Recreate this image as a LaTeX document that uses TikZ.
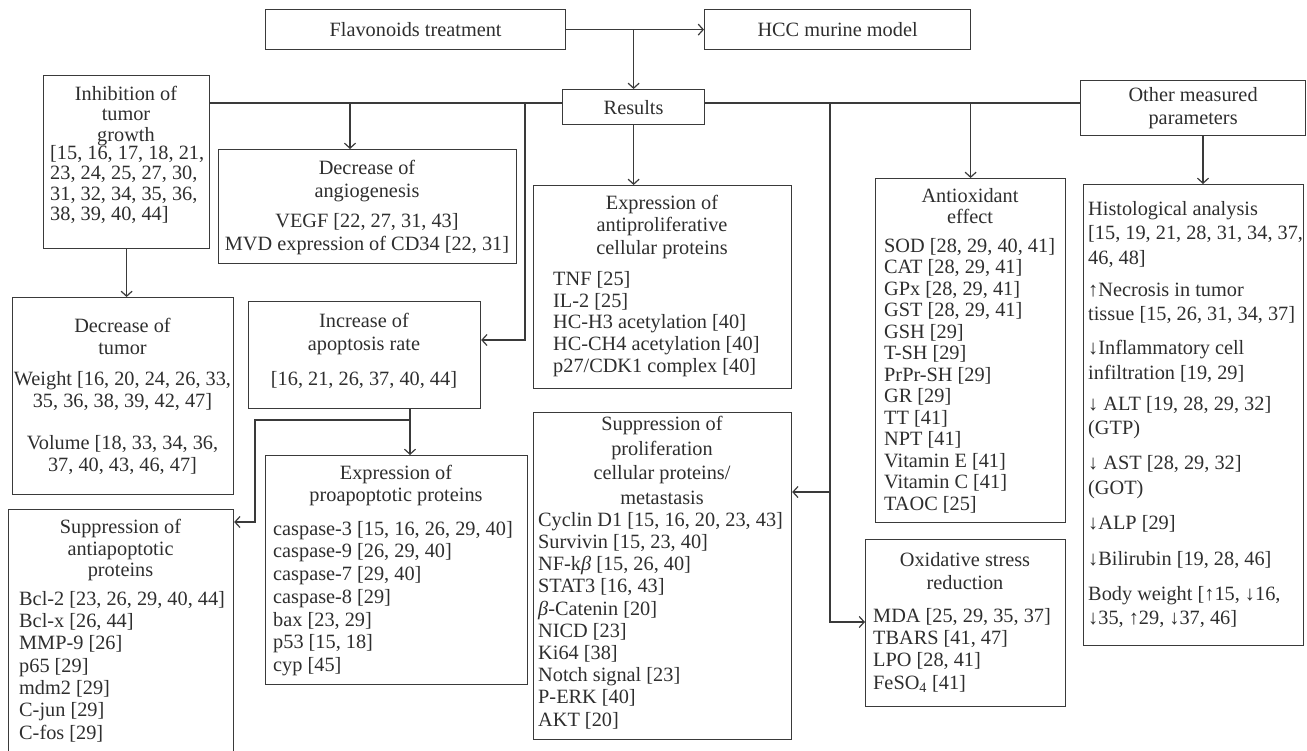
\documentclass[tikz,border=0pt]{standalone}
\usepackage{fontspec}
\setmainfont{Liberation Serif}
\usetikzlibrary{arrows.meta}
\definecolor{ink}{HTML}{2E2E2E}
\definecolor{rule}{HTML}{3A3A3A}
\newcommand{\fsz}[1]{\fontsize{20.3}{#1}\selectfont}

\begin{document}
\begin{tikzpicture}[x=1pt, y=-1pt, >={Straight Barb[length=5pt,width=11pt]}]
	\tikzstyle{box}  = [draw=rule, line width=1.2pt, inner sep=0pt, anchor=north west, text=ink, font=\fsz{23}]
	\tikzstyle{ttl}  = [inner sep=0pt, anchor=north, align=center, text=ink, font=\fsz{22}]
	\tikzstyle{lst}  = [inner sep=0pt, anchor=north west, align=left, text=ink, font=\fsz{22}]
	\tikzstyle{wire} = [draw=rule, line width=1.2pt]

	\useasboundingbox (0,0) rectangle (1307,750);

	% top row
	\node[box, minimum width=300, minimum height=40] (flav) at (265,9) {Flavonoids treatment};
	\node[box, minimum width=266, minimum height=40] (hcc) at (704,9) {HCC murine model};
	\node[box, minimum width=142, minimum height=35] (res) at (562,89) {Results};
	\node[box, minimum width=225, minimum height=55, align=center] (other) at (1080,80) {Other measured\\ parameters};

	% frames of the result boxes
	\foreach \name/\x/\y/\w/\h in {inhib/43/75/166/173, angio/218/149/298/114, tumor/12/297/221/197,
		apop/248/301/232/107, antip/533/185/258/203, antiox/875/178/190/344, histo/1083/184/220/461,
		proap/265/455/262/229, antiap/8/509/225/245, prolif/533/412/258/327, oxid/865/539/200/167}
		\node[box, minimum width=\w, minimum height=\h] (\name) at (\x,\y) {};

	% texts
	\node[ttl, font=\fsz{20.5}] (inhibT) at (126,86) {Inhibition of\\ tumor\\ growth};
	\node[lst, font=\fsz{20.5}] (inhibL) at (50,145) {[15, 16, 17, 18, 21,\\ 23, 24, 25, 27, 30,\\ 31, 32, 34, 35, 36,\\ 38, 39, 40, 44]};
	\node[ttl, font=\fsz{23}] (angioT) at (367,160) {Decrease of\\ angiogenesis\\[7pt] VEGF [22, 27, 31, 43]\\ MVD expression of CD34 [22, 31]};
	\node[ttl] (tumorT) at (122.5,318) {Decrease of\\ tumor\\[9pt] Weight [16, 20, 24, 26, 33,\\ 35, 36, 38, 39, 42, 47]\\[20pt] Volume [18, 33, 34, 36,\\ 37, 40, 43, 46, 47]};
	\node[ttl, font=\fsz{23}] (apopT) at (364,313) {Increase of\\ apoptosis rate\\[12pt] {}[16, 21, 26, 37, 40, 44]};
	\node[ttl, font=\fsz{22.5}] (antipT) at (662,195) {Expression of\\ antiproliferative\\ cellular proteins};
	\node[lst, font=\fsz{21.75}] (antipL) at (553,271) {TNF [25]\\ IL-2 [25]\\ HC-H3 acetylation [40]\\ HC-CH4 acetylation [40]\\ p27/CDK1 complex [40]};
	\node[ttl, font=\fsz{21}] (antioxT) at (970,188) {Antioxidant\\ effect};
	\node[lst, font=\fsz{21.5}] (antioxL) at (884,238) {SOD [28, 29, 40, 41]\\ CAT [28, 29, 41]\\ GPx [28, 29, 41]\\ GST [28, 29, 41]\\ GSH [29]\\ T-SH [29]\\ PrPr-SH [29]\\ GR [29]\\ TT [41]\\ NPT [41]\\ Vitamin E [41]\\ Vitamin C [41]\\ TAOC [25]};
	\node[lst, font=\fsz{24.5}] (histoL) at (1088,201) {Histological analysis\\{}[15, 19, 21, 28, 31, 34, 37,\\ 46, 48]\\[7.5pt] ↑Necrosis in tumor\\ tissue [15, 26, 31, 34, 37]\\[9.5pt] ↓Inflammatory cell\\ infiltration [19, 29]\\[6.5pt] ↓ ALT [19, 28, 29, 32]\\ (GTP)\\[10.5pt] ↓ AST [28, 29, 32]\\ (GOT)\\[10.5pt] ↓ALP [29]\\[11.5pt] ↓Bilirubin [19, 28, 46]\\[10.5pt] Body weight [↑15, ↓16,\\ ↓35, ↑29, ↓37, 46]};
	\node[ttl, font=\fsz{21.5}] (proapT) at (396,465) {Expression of\\ proapoptotic proteins};
	\node[lst, font=\fsz{22.7}] (proapL) at (273,521) {caspase-3 [15, 16, 26, 29, 40]\\ caspase-9 [26, 29, 40]\\ caspase-7 [29, 40]\\ caspase-8 [29]\\ bax [23, 29]\\ p53 [15, 18]\\ cyp [45]};
	\node[ttl, font=\fsz{21.5}] (antiapT) at (120.5,519) {Suppression of\\ antiapoptotic\\ proteins};
	\node[lst, font=\fsz{22.3}] (antiapL) at (19,591) {Bcl-2 [23, 26, 29, 40, 44]\\ Bcl-x [26, 44]\\ MMP-9 [26]\\ p65 [29]\\ mdm2 [29]\\ C-jun [29]\\ C-fos [29]};
	\node[ttl, font=\fsz{24.7}] (prolifT) at (662,416) {Suppression of\\ proliferation\\ cellular proteins/\\ metastasis};
	\node[lst, font=\fsz{22.2}] (prolifL) at (538,512) {Cyclin D1 [15, 16, 20, 23, 43]\\ Survivin [15, 23, 40]\\ NF-k\textit{β} [15, 26, 40]\\ STAT3 [16, 43]\\ \textit{β}-Catenin [20]\\ NICD [23]\\ Ki64 [38]\\ Notch signal [23]\\ P-ERK [40]\\ AKT [20]};
	\node[ttl, font=\fsz{23}] (oxidT) at (965,552) {Oxidative stress\\ reduction};
	\node[lst, font=\fsz{22.3}] (oxidL) at (873,608) {MDA [25, 29, 35, 37]\\ TBARS [41, 47]\\ LPO [28, 41]\\ FeSO\textsubscript{4} [41]};

	% connectors
	\coordinate (lvl) at (0,103);
	\draw[wire, ->] (flav.east) -- (hcc.west);
	\draw[wire, ->] (res.north |- flav.east) -- (res.north);
	\draw[wire] (inhib.east |- lvl) -- (res.west |- lvl);
	\draw[wire] (res.east |- lvl) -- (other.west |- lvl);
	\draw[wire, ->] (res.south) -- (res.south |- antip.north);
	\draw[wire, ->] (inhib.south) -- (inhib.south |- tumor.north);

	\coordinate (dA) at (350,103);
	\draw[wire, ->] (dA) -- (dA |- angio.north);
	\coordinate (dB) at (525,103);
	\coordinate (kB) at (525,340);
	\draw[wire, ->] (dB) -- (kB) -- (kB -| apop.east);

	\coordinate (dC) at (830,103);
	\coordinate (kC) at (830,492);
	\coordinate (kD) at (830,622);
	\draw[wire, ->] (dC) -- (kC) -- (kC -| prolif.east);
	\draw[wire, ->] (kC) -- (kD) -- (kD -| oxid.west);
	\draw[wire, ->] (antiox.north |- lvl) -- (antiox.north);

	\coordinate (dE) at (1203,0);
	\draw[wire, ->] (dE |- other.south) -- (dE |- histo.north);

	\coordinate (dF) at (410,420);
	\coordinate (kF) at (255,420);
	\coordinate (kG) at (255,522);
	\draw[wire, ->] (dF |- apop.south) -- (dF |- proap.north);
	\draw[wire, ->] (dF) -- (kF) -- (kG) -- (kG -| antiap.east);
\end{tikzpicture}
\end{document}
